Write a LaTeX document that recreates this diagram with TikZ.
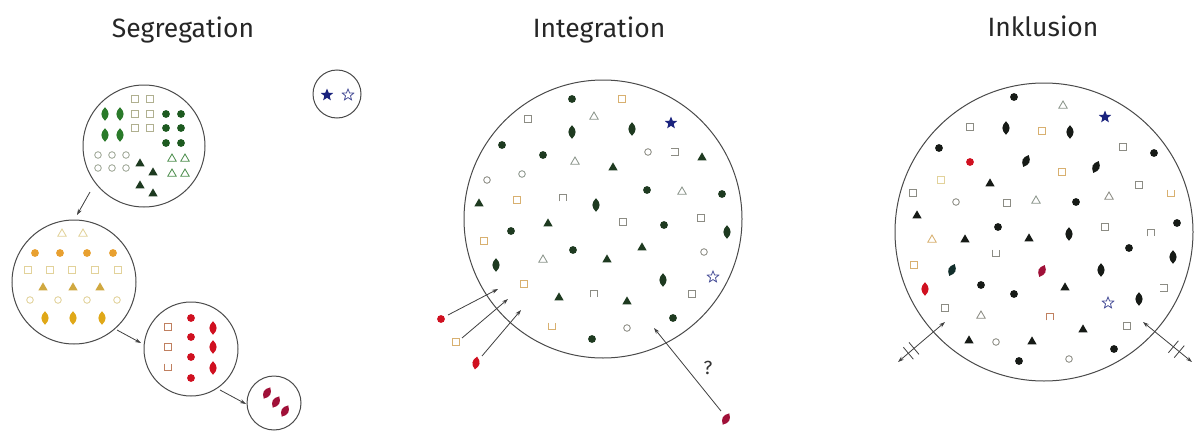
\documentclass[tikz,border=0pt]{standalone}
\usepackage{fontspec}
\setmainfont{Fira Sans}
\usetikzlibrary{shapes.geometric,arrows.meta,calc}
\definecolor{ring}{HTML}{4A4A4A}
\definecolor{dkg}{HTML}{1E3A20}
\definecolor{blk}{HTML}{161A16}
\definecolor{sqg}{HTML}{8C8C84}
\definecolor{tan}{HTML}{D8B070}
\definecolor{trg}{HTML}{8C968C}
\definecolor{navy}{HTML}{1A237E}
\definecolor{rd}{HTML}{D01020}
\definecolor{drd}{HTML}{A01038}
\definecolor{gdia}{HTML}{2A7A2A}
\definecolor{gcirc}{HTML}{1D5A20}
\definecolor{gsq}{HTML}{B0B090}
\definecolor{goc}{HTML}{A0A898}
\definecolor{gtri}{HTML}{1D3A20}
\definecolor{gotr}{HTML}{509050}
\definecolor{orc}{HTML}{E8A030}
\definecolor{ord}{HTML}{E0A818}
\definecolor{ort}{HTML}{D0A840}
\definecolor{pale}{HTML}{E2D29A}
\definecolor{brs}{HTML}{C08060}
\newcommand{\syFC}[3]{\fill[#3] (#1,#2) circle (3.9);}
\newcommand{\syOC}[3]{\draw[#3,line width=0.85pt] (#1,#2) circle (3.3);}
\newcommand{\syFD}[3]{\fill[#3,shift={(#1,#2)}] (0,-6.8) .. controls (4.8,-2.2) and (4.8,2.2) .. (0,6.8) .. controls (-4.8,2.2) and (-4.8,-2.2) .. (0,-6.8);}
\newcommand{\sySD}[4]{\fill[#3,shift={(#1,#2)},rotate=#4] (0,-6.5) .. controls (4.8,-2) and (4.8,2) .. (0,6.5) .. controls (-4.8,2) and (-4.8,-2) .. (0,-6.5);}
\newcommand{\syFT}[3]{\fill[#3,shift={(#1,#2)}] (0,-4.6) -- (4.6,3.3) -- (-4.6,3.3) -- cycle;}
\newcommand{\syOT}[3]{\draw[#3,line width=0.85pt,shift={(#1,#2)}] (0,-4) -- (4.2,3.2) -- (-4.2,3.2) -- cycle;}
\newcommand{\syOS}[3]{\draw[#3,line width=0.85pt,shift={(#1,#2)}] (-3.8,-3.3) rectangle (3.8,3.3);}
\newcommand{\syOU}[3]{\draw[#3,line width=0.85pt,shift={(#1,#2)}] (-3.8,-3.3) -- (-3.8,3.3) -- (3.8,3.3) -- (3.8,-3.3);}
\newcommand{\syON}[3]{\draw[#3,line width=0.85pt,shift={(#1,#2)}] (-3.8,3.3) -- (-3.8,-3.3) -- (3.8,-3.3) -- (3.8,3.3);}
\newcommand{\syOR}[3]{\draw[#3,line width=0.85pt,shift={(#1,#2)}] (-3.8,-3.3) -- (3.8,-3.3) -- (3.8,3.3) -- (-3.8,3.3);}
\newcommand{\syST}[2]{\node[star,star points=5,star point ratio=2.3,minimum size=13pt,inner sep=0pt,fill=navy] at (#1,#2) {};}
\newcommand{\syOST}[2]{\node[star,star points=5,star point ratio=2.3,minimum size=12pt,inner sep=0pt,draw=navy!80,line width=0.8pt] at (#1,#2) {};}
\tikzset{
  ring/.style={circle,draw=ring,line width=1pt,inner sep=0pt},
  title/.style={text=black!85,font=\fontsize{26.5}{30}\selectfont},
  arr/.style={draw=black!75,line width=0.8pt,-{Stealth[length=6pt,width=4pt]}},
  darr/.style={draw=black!75,line width=0.8pt,{Stealth[length=6pt,width=4pt]}-{Stealth[length=6pt,width=4pt]}},
}
\begin{document}
\begin{tikzpicture}[x=1pt,y=-1pt]
\useasboundingbox[fill=white] (0,0) rectangle (1195,431);
% titles
\node[title] (tseg) at (183,30) {Segregation};
\node[title] (tint) at (599,30) {Integration};
\node[title] (tink) at (1043,26) {Inklusion};
% ---------- Segregation ----------
\node[ring,minimum size=122pt] (seg1) at (144,146) {};
\node[ring,minimum size=124pt] (seg2) at (74,282) {};
\node[ring,minimum size=94pt] (seg3) at (191,349) {};
\node[ring,minimum size=54pt] (seg4) at (274,403) {};
\node[ring,minimum size=48pt] (stars) at (337,94) {};
\syST{327}{95}\syOST{348}{95}
% circle 1
\syFD{105}{114}{gdia}\syFD{120}{114}{gdia}\syFD{105}{135}{gdia}\syFD{120}{135}{gdia}
\foreach \a/\b in {135/99,150/99,135/114,150/114,135/128,150/128} {\syOS{\a}{\b}{gsq}}
\foreach \a/\b in {166/114,181/114,166/128,181/128,166/143,181/143} {\syFC{\a}{\b}{gcirc}}
\foreach \a/\b in {98/155,112/155,126/155,98/168,112/168,126/168} {\syOC{\a}{\b}{goc}}
\foreach \a/\b in {140/163,153/172,140/185,153/193} {\syFT{\a}{\b}{gtri}}
\foreach \a/\b in {172/158,185/158,172/173,185/173} {\syOT{\a}{\b}{gotr}}
% circle 2
\syOT{62}{233}{pale}\syOT{83}{233}{pale}
\foreach \a in {35,60,87,113} {\syFC{\a}{253}{orc}}
\foreach \a in {28,50,72,95,118} {\syOS{\a}{270}{pale}}
\foreach \a in {43,73,100} {\syFT{\a}{287}{ort}}
\foreach \a in {30,58,87,117} {\syOC{\a}{300}{pale}}
\foreach \a in {45,73,102} {\syFD{\a}{318}{ord}}
% circle 3
\foreach \b in {327,347} {\syOS{168}{\b}{brs}}
\syOU{168}{367}{brs}
\foreach \b in {318,337,357,378} {\syFC{191}{\b}{rd}}
\foreach \b in {328,347,368} {\syFD{213}{\b}{rd}}
% circle 4
\sySD{267}{393}{drd}{-30}\sySD{276}{402}{drd}{-30}\sySD{285}{411}{drd}{-30}
% arrows
\coordinate (s1a) at (90,192); \coordinate (s1b) at (77,215);
\coordinate (s2a) at (117,330); \coordinate (s2b) at (141,343);
\coordinate (s3a) at (220,390); \coordinate (s3b) at (246,404);
\draw[arr] (s1a) -- (s1b);
\draw[arr] (s2a) -- (s2b);
\draw[arr] (s3a) -- (s3b);
% ---------- Integration ----------
\node[ring,minimum size=278pt] (integ) at (603,219) {};
\syFC{572}{99}{dkg}\syOS{622}{99}{tan}\syOS{528}{119}{sqg}\syOT{594}{116}{trg}
\syFD{572}{132}{dkg}\syFD{632}{129}{dkg}\syST{671}{123}
\syFC{502}{145}{dkg}\syFC{543}{155}{dkg}\syOT{575}{161}{trg}\syFT{613}{167}{dkg}
\syOC{648}{152}{sqg}\syOR{675}{152}{sqg}\syFT{702}{157}{dkg}
\syOC{487}{180}{sqg}\syOC{522}{174}{trg}\syFC{647}{190}{dkg}\syOT{682}{191}{trg}\syFC{722}{194}{dkg}
\syFT{479}{203}{dkg}\syOS{517}{200}{tan}\syON{563}{198}{sqg}\syFD{596}{205}{dkg}
\syFT{548}{223}{dkg}\syOS{623}{222}{sqg}\syFC{664}{225}{dkg}\syOS{701}{218}{sqg}\syFD{727}{232}{dkg}
\syFC{511}{231}{dkg}\syOS{484}{241}{tan}\syFC{573}{250}{dkg}\syFT{642}{247}{dkg}\syOC{704}{252}{sqg}
\syFD{496}{265}{dkg}\syOT{543}{259}{trg}\syFT{607}{259}{dkg}\syFD{663}{280}{dkg}\syOST{713}{277}
\syOS{524}{284}{tan}\syFT{559}{297}{dkg}\syON{594}{294}{sqg}\syFT{627}{301}{dkg}\syOS{692}{294}{sqg}
\syFC{673}{318}{dkg}\syOU{552}{326}{tan}\syOC{627}{328}{sqg}\syFC{592}{339}{dkg}
% outside
\syFC{441}{319}{rd}\syOS{456}{342}{tan}\sySD{476}{363}{rd}{-10}
\sySD{726}{419}{drd}{-30}
\coordinate (i1a) at (448,315); \coordinate (i1b) at (498,289);
\coordinate (i2a) at (462,338); \coordinate (i2b) at (508,299);
\coordinate (i3a) at (482,356); \coordinate (i3b) at (521,310);
\coordinate (i4a) at (721,411); \coordinate (i4b) at (654,328);
\draw[arr] (i1a) -- (i1b);
\draw[arr] (i2a) -- (i2b);
\draw[arr] (i3a) -- (i3b);
\draw[arr] (i4a) -- (i4b);
\node[text=black!80,font=\fontsize{19}{21}\selectfont] (q) at (708,368) {?};
% ---------- Inklusion ----------
\node[ring,minimum size=298pt] (inkl) at (1044,232) {};
\syFC{1014}{97}{blk}\syOT{1063}{105}{trg}\syST{1105}{117}
\syOS{970}{127}{sqg}\syFD{1006}{128}{blk}\syOS{1042}{131}{tan}\syFD{1070}{132}{blk}
\syFC{939}{148}{blk}\syOS{1123}{147}{sqg}\syFC{1154}{153}{blk}
\syFC{970}{162}{rd}\sySD{1026}{161}{blk}{-25}\sySD{1096}{167}{blk}{-25}\syOS{1062}{172}{tan}
\syOS{941}{180}{pale}\syFT{990}{183}{blk}\syOS{1139}{185}{sqg}
\syOS{913}{193}{sqg}\syOC{956}{202}{sqg}\syOS{1007}{203}{sqg}\syOT{1036}{200}{trg}\syFC{1076}{202}{blk}
\syOT{1109}{196}{sqg}\syOU{1171}{193}{tan}\syFT{917}{215}{blk}
\syFC{998}{227}{blk}\syOT{932}{239}{tan}\syFT{965}{239}{blk}\syFT{1029}{238}{blk}\syFD{1069}{234}{blk}
\syOS{1105}{227}{sqg}\syON{1151}{233}{sqg}\syFC{1177}{223}{blk}\syFC{1129}{248}{blk}
\syOU{996}{253}{sqg}\syOS{914}{265}{tan}\sySD{952}{270}{blk!80!teal}{-25}\sySD{1042}{271}{drd}{-25}
\syFD{1101}{270}{blk}\syFD{1173}{257}{blk}\syFD{925}{289}{rd}
\syFC{981}{285}{blk}\syFC{1014}{294}{blk}\syFT{1065}{287}{blk}\syOR{1164}{288}{sqg}
\syOST{1108}{303}\syFD{1139}{299}{blk}\syOS{945}{308}{sqg}\syOT{981}{315}{sqg}\syON{1050}{317}{brs}
\syFT{1083}{329}{blk}\syOS{1127}{326}{sqg}\syFT{969}{340}{blk}\syOC{996}{342}{sqg}\syFT{1032}{341}{blk}
\syFC{1114}{349}{blk}\syFC{1019}{361}{blk}\syOC{1069}{359}{sqg}
% double arrows with hash marks
\coordinate (k1a) at (898,362); \coordinate (k1b) at (945,322);
\coordinate (k2a) at (1143,322); \coordinate (k2b) at (1192,362);
\draw[darr] (k1a) -- (k1b);
\draw[darr] (k2a) -- (k2b);
\draw[black!75,line width=0.8pt] ($(k1a)!0.22!(k1b)$) ++(-5,-6) -- ++(10,12);
\draw[black!75,line width=0.8pt] ($(k1a)!0.34!(k1b)$) ++(-5,-6) -- ++(10,12);
\draw[black!75,line width=0.8pt] ($(k2a)!0.62!(k2b)$) ++(5,-6) -- ++(-10,12);
\draw[black!75,line width=0.8pt] ($(k2a)!0.74!(k2b)$) ++(5,-6) -- ++(-10,12);
\end{tikzpicture}
\end{document}
